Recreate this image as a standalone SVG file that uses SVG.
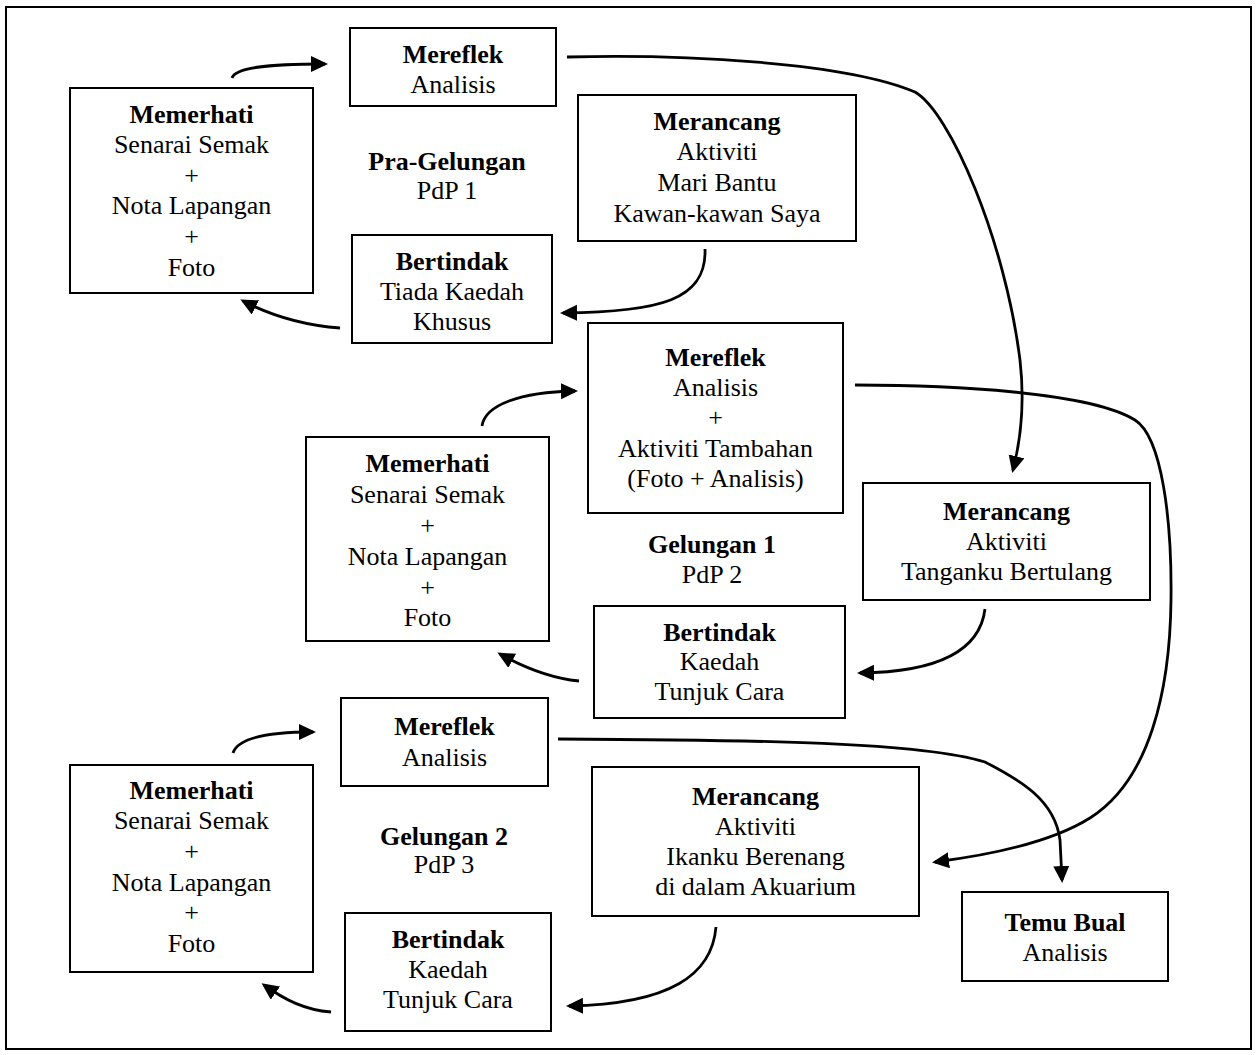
<svg xmlns="http://www.w3.org/2000/svg" width="1258" height="1055" viewBox="0 0 1258 1055">
<style>
.box{fill:#fff;stroke:#000;stroke-width:2}
text{font-family:"Liberation Serif","Times New Roman",serif;font-size:26px;text-anchor:middle;fill:#000}
.b{font-weight:bold}
.c{fill:none;stroke:#000;stroke-width:2.8}
</style>
<defs>
<marker id="ah" markerUnits="userSpaceOnUse" markerWidth="17" markerHeight="17" refX="14" refY="8" orient="auto">
<path d="M0,0 L17,8 L0,16 z" fill="#000"/>
</marker>
</defs>
<rect x="6" y="7" width="1245" height="1042" fill="#fff" stroke="#000" stroke-width="2"/>

<g id="connectors">
<path class="c" marker-end="url(#ah)" d="M232,78 C235,68 265,64 325,64"/>
<path class="c" marker-end="url(#ah)" d="M567,57 C680,54 845,62 915,92 C950,112 1005,240 1020,360 C1024,395 1022,435 1013,470"/>
<path class="c" marker-end="url(#ah)" d="M705,249 C707,300 660,312 563,313"/>
<path class="c" marker-end="url(#ah)" d="M340,328 C300,325 270,315 243,301"/>
<path class="c" marker-end="url(#ah)" d="M482,426 C485,405 520,392 575,391"/>
<path class="c" marker-end="url(#ah)" d="M855,385 C950,385 1090,392 1135,420 C1162,437 1172,520 1171,600 C1170,690 1150,780 1090,818 C1050,843 990,855 935,862"/>
<path class="c" marker-end="url(#ah)" d="M985,609 C980,650 940,672 860,673"/>
<path class="c" marker-end="url(#ah)" d="M579,681 C550,678 525,668 500,654"/>
<path class="c" marker-end="url(#ah)" d="M233,753 C237,740 262,732 313,732"/>
<path class="c" marker-end="url(#ah)" d="M558,739 C760,740 920,742 985,762 C1020,780 1055,800 1060,840 L1062,880"/>
<path class="c" marker-end="url(#ah)" d="M716,927 C712,975 670,1004 569,1006"/>
<path class="c" marker-end="url(#ah)" d="M331,1012 C305,1010 285,1000 264,985"/>
</g>

<g id="mereflek1">
<rect class="box" x="350" y="28" width="206" height="78"/>
<text x="453" y="63" class="b">Mereflek</text>
<text x="453" y="93">Analisis</text>
</g>
<g id="memerhati1">
<rect class="box" x="70" y="88" width="243" height="205"/>
<text x="191.5" y="123" class="b">Memerhati</text>
<text x="191.5" y="153">Senarai Semak</text>
<text x="191.5" y="184">+</text>
<text x="191.5" y="214">Nota Lapangan</text>
<text x="191.5" y="245">+</text>
<text x="191.5" y="276">Foto</text>
</g>
<g id="pra-gelungan">
<text x="447" y="170" class="b">Pra-Gelungan</text>
<text x="447" y="199">PdP 1</text>
</g>
<g id="merancang1">
<rect class="box" x="578" y="95" width="278" height="146"/>
<text x="717" y="130" class="b">Merancang</text>
<text x="717" y="160">Aktiviti</text>
<text x="717" y="191">Mari Bantu</text>
<text x="717" y="222">Kawan-kawan Saya</text>
</g>
<g id="bertindak1">
<rect class="box" x="352" y="235" width="200" height="108"/>
<text x="452" y="270" class="b">Bertindak</text>
<text x="452" y="300">Tiada Kaedah</text>
<text x="452" y="330">Khusus</text>
</g>

<g id="mereflek2">
<rect class="box" x="588" y="323" width="255" height="190"/>
<text x="715.5" y="366" class="b">Mereflek</text>
<text x="715.5" y="396">Analisis</text>
<text x="715.5" y="426">+</text>
<text x="715.5" y="457">Aktiviti Tambahan</text>
<text x="715.5" y="487">(Foto + Analisis)</text>
</g>
<g id="memerhati2">
<rect class="box" x="306" y="437" width="243" height="204"/>
<text x="427.5" y="472" class="b">Memerhati</text>
<text x="427.5" y="503">Senarai Semak</text>
<text x="427.5" y="534">+</text>
<text x="427.5" y="565">Nota Lapangan</text>
<text x="427.5" y="596">+</text>
<text x="427.5" y="626">Foto</text>
</g>
<g id="gelungan1">
<text x="712" y="553" class="b">Gelungan 1</text>
<text x="712" y="583">PdP 2</text>
</g>
<g id="merancang2">
<rect class="box" x="863" y="483" width="287" height="117"/>
<text x="1006.5" y="520" class="b">Merancang</text>
<text x="1006.5" y="550">Aktiviti</text>
<text x="1006.5" y="580">Tanganku Bertulang</text>
</g>
<g id="bertindak2">
<rect class="box" x="594" y="606" width="251" height="112"/>
<text x="719.5" y="641" class="b">Bertindak</text>
<text x="719.5" y="670">Kaedah</text>
<text x="719.5" y="700">Tunjuk Cara</text>
</g>

<g id="mereflek3">
<rect class="box" x="341" y="698" width="207" height="88"/>
<text x="444.5" y="735" class="b">Mereflek</text>
<text x="444.5" y="766">Analisis</text>
</g>
<g id="memerhati3">
<rect class="box" x="70" y="765" width="243" height="207"/>
<text x="191.5" y="799" class="b">Memerhati</text>
<text x="191.5" y="829">Senarai Semak</text>
<text x="191.5" y="860">+</text>
<text x="191.5" y="891">Nota Lapangan</text>
<text x="191.5" y="921">+</text>
<text x="191.5" y="952">Foto</text>
</g>
<g id="gelungan2">
<text x="444" y="845" class="b">Gelungan 2</text>
<text x="444" y="873">PdP 3</text>
</g>
<g id="merancang3">
<rect class="box" x="592" y="767" width="327" height="149"/>
<text x="755.5" y="805" class="b">Merancang</text>
<text x="755.5" y="835">Aktiviti</text>
<text x="755.5" y="865">Ikanku Berenang</text>
<text x="755.5" y="895">di dalam Akuarium</text>
</g>
<g id="bertindak3">
<rect class="box" x="345" y="913" width="206" height="118"/>
<text x="448" y="948" class="b">Bertindak</text>
<text x="448" y="978">Kaedah</text>
<text x="448" y="1008">Tunjuk Cara</text>
</g>
<g id="temu-bual">
<rect class="box" x="962" y="892" width="206" height="89"/>
<text x="1065" y="931" class="b">Temu Bual</text>
<text x="1065" y="961">Analisis</text>
</g>
</svg>
